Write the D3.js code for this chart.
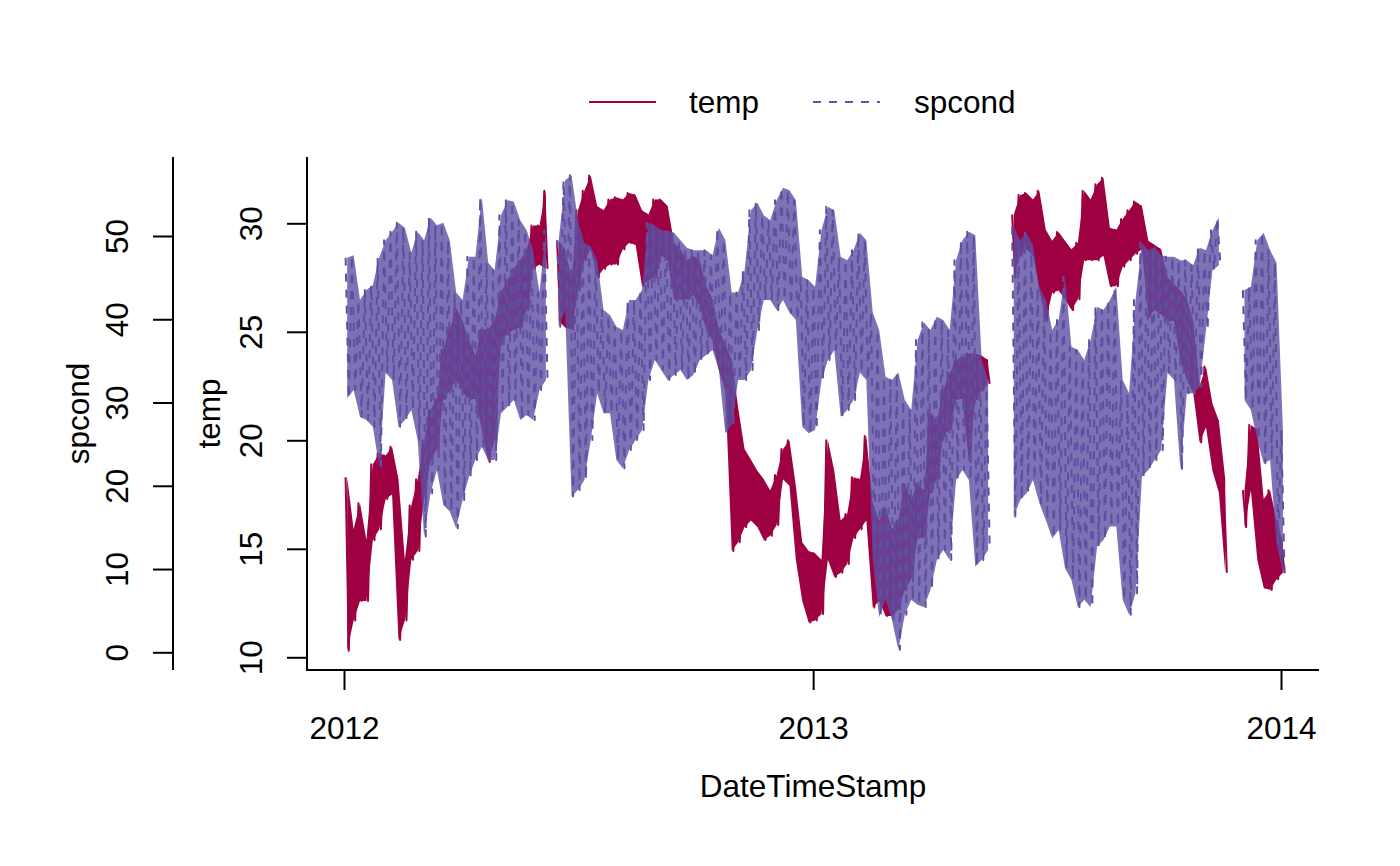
<!DOCTYPE html>
<html><head><meta charset="utf-8">
<script src="https://cdn.jsdelivr.net/npm/d3@7"></script>
<style>
body{margin:0;background:#fff}
svg{display:block}
text{font-family:"Liberation Sans",Arial,Helvetica,sans-serif;fill:#000}
</style>
</head><body><svg id="chart" width="1400" height="866"></svg>
<script>
// ---------- data ----------
const seriesNames = ["temp", "spcond"];
const seriesColors = ["#9E0142", "#5E4FA2"];
const xTickLabels = ["2012", "2013", "2014"];
const tempTicks = [10, 15, 20, 25, 30];
const spcondTicks = [0, 10, 20, 30, 40, 50];
const axisTitles = ["DateTimeStamp", "temp", "spcond"];
// sampling grid: 5-day bins starting 2012-01-01; per bin highest and lowest reading
const binStart = "2012-01-01";
const binDays = 5;

const tempHi = [18.3,15.9,17.1,15.4,18.9,19.4,19.3,19.7,18.2,14.5,
17.0,18.2,20.0,21.4,21.9,24.2,25.1,26.1,25.5,24.6,
23.9,25.1,25.1,25.5,26.8,27.4,27.9,28.3,28.8,29.9,
29.9,31.5,null,29.2,28.8,27.4,30.6,31.5,32.2,30.8,
30.6,31.1,31.2,31.1,31.4,31.3,30.6,30.4,31.1,31.1,
30.8,29.1,28.8,28.3,28.5,28.3,27.1,26.5,25.1,24.4,
23.7,21.5,19.6,19.1,18.6,18.2,17.7,18.4,19.6,20.0,
17.9,15.3,14.9,14.8,14.5,20.0,18.6,16.3,16.6,18.3,
18.2,20.2,17.1,16.3,16.9,15.9,16.3,18.0,17.3,18.0,
17.7,21.3,20.9,22.3,23.1,23.7,23.8,24.0,24.0,23.9,
23.7,null,null,null,30.4,31.3,31.4,31.1,31.5,29.7,
29.2,29.6,29.2,28.8,29.1,31.5,31.1,31.8,32.1,29.8,
29.7,30.2,30.6,31.0,30.8,29.2,29.0,28.8,27.5,27.2,
26.9,26.5,25.5,22.5,23.4,21.7,20.9,18.2,null,null,
17.7,20.7,20.5,17.3,17.7,16.3,15.3];

const tempLo = [10.3,11.7,12.6,12.6,15.4,15.9,17.3,17.5,10.8,11.7,
14.5,14.9,17.3,19.1,19.6,21.9,22.3,22.8,22.2,21.9,
21.9,20.5,19.0,20.0,24.6,24.9,25.1,25.2,26.0,27.9,
28.1,27.9,null,25.5,25.2,25.1,26.9,28.3,28.8,27.5,
27.9,28.1,28.1,28.8,29.1,29.0,27.1,27.4,27.5,28.5,
28.3,26.5,26.5,26.5,26.7,26.2,25.1,24.6,23.2,22.3,
14.9,15.3,16.0,16.3,16.0,15.4,15.6,16.1,18.2,17.9,
14.5,12.6,11.6,11.7,12.0,14.5,13.7,13.9,14.3,15.5,
15.9,16.3,12.3,12.6,11.9,11.9,12.2,13.1,13.6,15.5,
15.5,17.6,18.2,20.2,20.5,21.9,21.9,19.0,21.9,22.3,
22.6,null,null,null,27.5,28.5,28.8,28.5,26.9,25.5,
26.8,26.9,26.5,26.0,26.5,28.3,28.3,28.3,28.5,27.1,
27.1,28.0,28.3,28.6,28.8,25.7,26.0,25.8,25.5,25.5,
23.7,22.8,22.2,19.9,20.6,18.6,17.6,13.9,null,null,
16.0,17.7,14.5,13.2,13.1,13.6,13.9];

const spcondHi = [47.4,47.7,42.3,43.5,44.1,47.4,49.5,50.5,51.6,51.0,
48.0,50.5,49.5,52.2,51.3,51.6,49.5,43.2,42.3,47.5,
47.5,54.7,46.8,45.9,52.5,54.3,54.1,51.9,50.7,48.3,
43.2,50.7,null,49.5,56.7,57.3,51.9,49.2,48.7,47.1,
41.1,40.5,39.1,38.7,42.3,42.3,43.5,51.6,51.3,50.7,
50.7,50.4,49.5,48.6,48.3,48.3,48.3,47.7,51.0,49.5,
43.2,43.2,45.9,53.1,54.0,52.5,51.9,54.3,55.8,55.5,
54.3,45.1,44.7,43.9,50.7,53.5,53.1,47.5,47.1,48.3,
50.4,49.5,40.8,38.7,33.1,32.7,33.6,30.3,29.1,37.5,
39.6,38.7,40.3,39.9,38.7,47.1,49.5,50.5,50.1,35.1,
32.7,null,null,null,51.1,49.5,50.4,48.9,43.9,42.3,
38.7,39.9,45.1,36.7,36.3,35.1,37.5,41.5,41.1,42.3,
43.9,32.7,31.1,42.3,49.2,48.3,48.7,47.7,47.5,47.5,
47.1,47.1,46.5,48.6,48.3,50.7,52.2,null,null,null,
43.5,43.9,49.5,50.4,48.3,46.8,26.7];

const spcondLo = [30.5,31.5,28.3,27.9,27.1,22.3,33.6,32.7,27.1,27.9,
29.1,25.5,13.9,19.1,21.9,17.7,16.9,14.9,18.3,21.1,
23.1,24.7,23.1,23.1,28.7,29.5,30.3,27.9,28.5,27.9,
31.5,32.7,null,39.1,41.1,18.7,19.5,20.7,25.5,31.1,
28.7,28.7,23.1,22.1,24.3,25.5,26.7,32.7,35.1,33.9,
32.7,33.3,33.9,32.7,33.3,35.1,35.7,36.3,33.9,26.3,
27.3,32.7,32.7,33.9,38.7,42.3,42.3,41.1,42.3,40.8,
39.9,27.1,26.3,26.7,32.7,35.1,36.3,28.3,29.1,30.3,
33.6,32.7,11.1,4.2,6.3,3.9,0.3,4.5,6.3,5.7,
5.4,7.5,11.1,12.3,11.1,20.7,21.9,20.7,10.3,11.1,
12.3,null,null,null,16.3,18.3,19.1,20.7,17.9,15.9,
13.7,14.7,10.1,8.7,5.4,6.3,5.4,12.7,13.5,15.1,
15.1,6.3,4.5,7.1,21.1,21.9,23.1,24.3,33.6,32.7,
21.9,31.1,31.1,31.9,38.7,45.9,46.5,null,null,null,
30.3,29.1,25.5,22.7,23.1,13.1,9.5];

// ---------- layout ----------
const svg = d3.select("#chart");
const FS = 31.5;
const plot = {left: 307, right: 1319, top: 157, bottom: 670};
const spAxisX = 173;

const parse = d3.utcParse("%Y-%m-%d");
const t0 = parse(binStart);
const tickDates = xTickLabels.map(s => parse(s + "-01-01"));

const x = d3.scaleUtc().domain([tickDates[0], tickDates[2]]).range([344, 1281]);
const yT = d3.scaleLinear().domain([10, 30]).range([657.3, 223.3]);
const yS = d3.scaleLinear().domain([0, 50]).range([652.3, 236]);

// trace: high then low reading within each bin
function zig(hi, lo) {
  const pts = [];
  hi.forEach((h, i) => {
    const start = d3.utcDay.offset(t0, i * binDays);
    pts.push({t: d3.utcHour.offset(start, 30), v: h});
    pts.push({t: d3.utcHour.offset(start, 90), v: lo[i]});
  });
  return pts;
}
// band: range of readings within each bin
function band(hi, lo) {
  return hi.map((h, i) => ({
    t: d3.utcHour.offset(d3.utcDay.offset(t0, i * binDays), 60), hi: h, lo: lo[i]
  }));
}

const series = [
  {pts: zig(tempHi, tempLo), band: band(tempHi, tempLo), y: yT, color: seriesColors[0], dash: null, bandOpacity: 1},
  {pts: zig(spcondHi, spcondLo), band: band(spcondHi, spcondLo), y: yS, color: seriesColors[1], dash: "8,8", bandOpacity: 0.8}
];

series.forEach(s => {
  const area = d3.area().defined(d => d.hi != null && d.lo != null)
    .x(d => x(d.t)).y0(d => s.y(d.lo)).y1(d => s.y(d.hi));
  const line = d3.line().defined(d => d.v != null).x(d => x(d.t)).y(d => s.y(d.v));
  svg.append("path").attr("d", area(s.band)).attr("fill", s.color)
    .attr("fill-opacity", s.bandOpacity).attr("stroke", "none");
  svg.append("path").attr("d", line(s.pts))
    .attr("fill", "none").attr("stroke", s.color).attr("stroke-width", 2)
    .attr("stroke-dasharray", s.dash).attr("stroke-linejoin", "round");
});

// ---------- axes ----------
const axCol = "#000";
svg.append("path")
  .attr("d", `M${plot.left},${plot.top}V${plot.bottom}H${plot.right}`)
  .attr("fill", "none").attr("stroke", axCol).attr("stroke-width", 2);
svg.append("line").attr("x1", spAxisX).attr("x2", spAxisX)
  .attr("y1", plot.top).attr("y2", plot.bottom)
  .attr("stroke", axCol).attr("stroke-width", 2);

function styleAxis(g) {
  g.select(".domain").remove();
  g.selectAll(".tick line").attr("stroke", axCol).attr("stroke-width", 2);
  g.selectAll("text").attr("font-size", FS).attr("font-family", null).attr("fill", "#000");
}

const gT = svg.append("g").attr("transform", `translate(${plot.left},0)`)
  .call(d3.axisLeft(yT).tickValues(tempTicks).tickSize(20).tickSizeOuter(0).tickFormat(d3.format("d")));
styleAxis(gT);
gT.selectAll(".tick text").attr("x", null).attr("dy", null).attr("text-anchor", "middle")
  .attr("transform", "translate(-45,0) rotate(-90)");

const gS = svg.append("g").attr("transform", `translate(${spAxisX},0)`)
  .call(d3.axisLeft(yS).tickValues(spcondTicks).tickSize(20).tickSizeOuter(0).tickFormat(d3.format("d")));
styleAxis(gS);
gS.selectAll(".tick text").attr("x", null).attr("dy", null).attr("text-anchor", "middle")
  .attr("transform", "translate(-45,0) rotate(-90)");

const gX = svg.append("g").attr("transform", `translate(0,${plot.bottom})`)
  .call(d3.axisBottom(x).tickValues(tickDates).tickSize(20).tickSizeOuter(0).tickFormat(d3.utcFormat("%Y")));
styleAxis(gX);
gX.selectAll(".tick text").attr("y", 69).attr("dy", null);

// titles
svg.append("text").attr("x", (plot.left + plot.right) / 2).attr("y", 797)
  .attr("text-anchor", "middle").attr("font-size", FS).text(axisTitles[0]);
svg.append("text").attr("transform", `translate(220,${(plot.top + plot.bottom) / 2}) rotate(-90)`)
  .attr("text-anchor", "middle").attr("font-size", FS).text(axisTitles[1]);
svg.append("text").attr("transform", `translate(89,${(plot.top + plot.bottom) / 2}) rotate(-90)`)
  .attr("text-anchor", "middle").attr("font-size", FS).text(axisTitles[2]);

// legend
const legend = [
  {name: seriesNames[0], color: seriesColors[0], dash: null, x1: 589, x2: 656, tx: 689},
  {name: seriesNames[1], color: seriesColors[1], dash: "8,8", x1: 813, x2: 880, tx: 914}
];
const lg = svg.append("g");
legend.forEach(l => {
  lg.append("line").attr("x1", l.x1).attr("x2", l.x2).attr("y1", 102).attr("y2", 102)
    .attr("stroke", l.color).attr("stroke-width", 2).attr("stroke-dasharray", l.dash);
  lg.append("text").attr("x", l.tx).attr("y", 113).attr("font-size", FS).text(l.name);
});
</script>
</body></html>
